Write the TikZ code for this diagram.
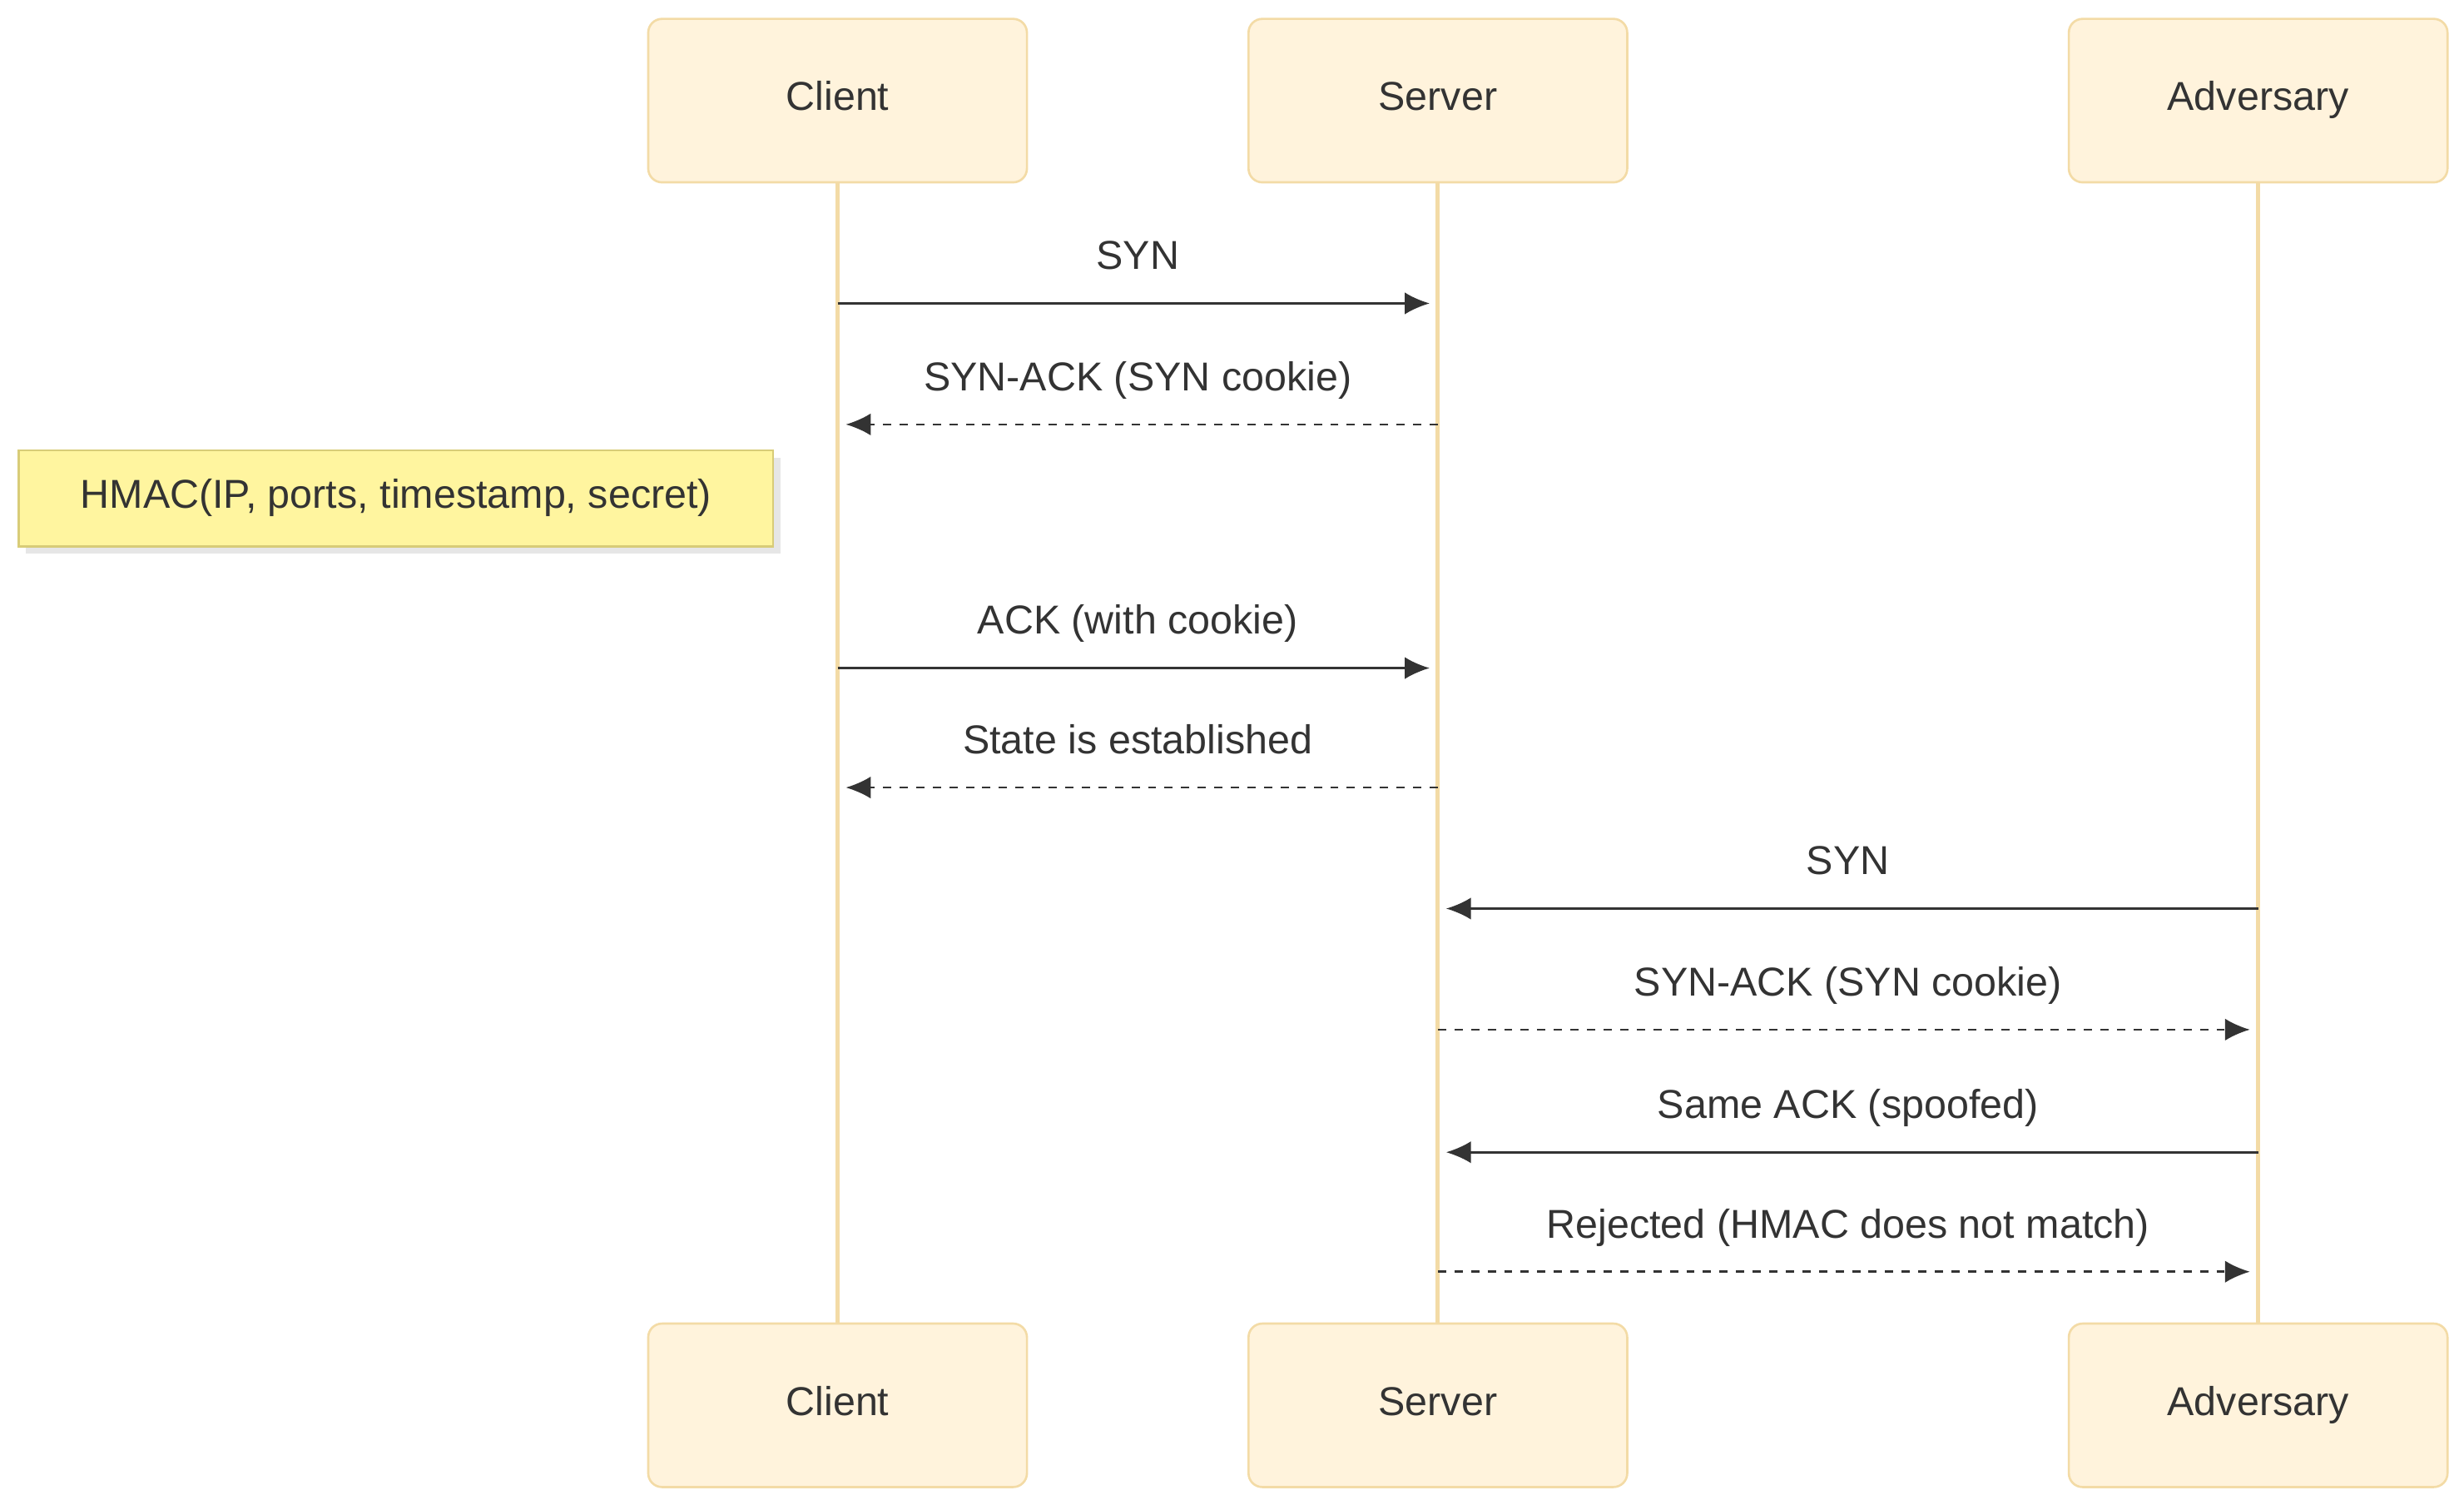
\documentclass[tikz,border=0pt]{standalone}
\usepackage{fontspec}
\setmainfont{Liberation Sans}
\usetikzlibrary{shadows,arrows.meta}
\definecolor{actfill}{HTML}{FFF3DC}
\definecolor{actline}{HTML}{F3DBA6}
\definecolor{notefill}{HTML}{FFF59F}
\definecolor{noteline}{HTML}{D8CC78}
\definecolor{msg}{HTML}{333333}
\tikzset{
  actor/.style = {draw=actline, fill=actfill, rounded corners=5pt, line width=0.8pt,
                  minimum width=241*0.02cm, minimum height=104*0.02cm, text=msg,
                  text height=0.72em, text depth=0em},
  note/.style = {draw=noteline, fill=notefill, line width=0.8pt, drop shadow={opacity=0.2},
                 minimum width=480*0.02cm, minimum height=61*0.02cm, text=msg,
                 text height=0.72em, text depth=0em},
  life/.style = {draw=actline, line width=1.5pt},
  call/.style = {draw=msg, line width=0.8pt, -{Latex[length=9pt,width=8pt]}, shorten >=3pt},
  reply/.style = {call, dashed},
  lbl/.style = {text=msg, above=6pt, text height=0.75em, text depth=0.25em}
}
\begin{document}
\begin{tikzpicture}[x=0.02cm, y=-0.02cm, font=\fontsize{14.6}{17}\selectfont]
\useasboundingbox (0,0) rectangle (1568,957);

% actors
\node[actor] (C) at (533,64) {Client};
\node[actor] (S) at (915,64) {Server};
\node[actor] (A) at (1437,64) {Adversary};
\node[actor] (Cb) at (533,894) {Client};
\node[actor] (Sb) at (915,894) {Server};
\node[actor] (Ab) at (1437,894) {Adversary};

% lifelines
\draw[life] (C) -- (Cb);
\draw[life] (S) -- (Sb);
\draw[life] (A) -- (Ab);

% message rows
\foreach \n/\y in {1/193, 2/270, 3/425, 4/501, 5/578, 6/655, 7/733, 8/809} {
  \coordinate (c\n) at (533,\y);
  \coordinate (s\n) at (915,\y);
  \coordinate (a\n) at (1437,\y);
}

\node[note] (N) at (252,317) {HMAC(IP, ports, timestamp, secret)};

\draw[call] (c1) -- node[lbl] {SYN} (s1);
\draw[reply] (s2) -- node[lbl] {SYN-ACK (SYN cookie)} (c2);
\draw[call] (c3) -- node[lbl] {ACK (with cookie)} (s3);
\draw[reply] (s4) -- node[lbl] {State is established} (c4);
\draw[call] (a5) -- node[lbl] {SYN} (s5);
\draw[reply] (s6) -- node[lbl] {SYN-ACK (SYN cookie)} (a6);
\draw[call] (a7) -- node[lbl] {Same ACK (spoofed)} (s7);
\draw[reply] (s8) -- node[lbl] {Rejected (HMAC does not match)} (a8);
\end{tikzpicture}
\end{document}
